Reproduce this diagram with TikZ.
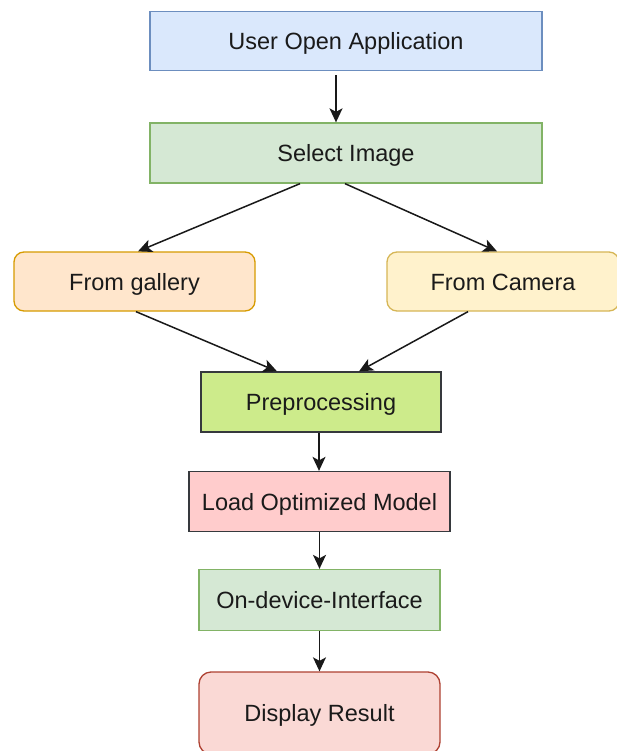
\documentclass[tikz,border=0pt]{standalone}
\usepackage{fontspec}
\setmainfont{Liberation Sans}
\usetikzlibrary{arrows.meta}

\definecolor{blueFill}{HTML}{DAE8FC}\definecolor{blueLine}{HTML}{6C8EBF}
\definecolor{greenFill}{HTML}{D5E8D4}\definecolor{greenLine}{HTML}{82B366}
\definecolor{orangeFill}{HTML}{FFE6CC}\definecolor{orangeLine}{HTML}{D79B00}
\definecolor{yellowFill}{HTML}{FFF2CC}\definecolor{yellowLine}{HTML}{D6B656}
\definecolor{limeFill}{HTML}{CDEB8B}\definecolor{darkLine}{HTML}{36393D}
\definecolor{pinkFill}{HTML}{FFCCCC}
\definecolor{redFill}{HTML}{FAD9D5}\definecolor{redLine}{HTML}{AE4132}
\definecolor{textGray}{HTML}{1A1A1A}

\tikzset{
  box/.style={draw, line width=1.3pt, inner sep=0pt, text=textGray,
    text height=17pt, text depth=0pt,
    font=\fontsize{23.5}{28}\selectfont},
  arr/.style={draw=black!90, line width=1.5pt,
    -{Stealth[length=14pt,width=13pt,inset=3.5pt]}}
}

\begin{document}
\begin{tikzpicture}[x=1pt,y=-1pt]
  \useasboundingbox (0,0) rectangle (616,751);
  \fill[white] (0,0) rectangle (616,751);

  \node[box, fill=blueFill, draw=blueLine, minimum width=392pt, minimum height=59pt]
    (open) at (346,41) {User Open Application};
  \node[box, fill=greenFill, draw=greenLine, minimum width=392pt, minimum height=60pt]
    (select) at (346,153) {Select Image};
  \node[box, fill=orangeFill, draw=orangeLine, rounded corners=10pt,
    minimum width=241pt, minimum height=59pt]
    (gallery) at (134.5,281.5) {From gallery};
  \node[box, fill=yellowFill, draw=yellowLine, rounded corners=10pt,
    minimum width=232pt, minimum height=59pt]
    (camera) at (503,281.5) {From Camera};
  \node[box, fill=limeFill, draw=darkLine, minimum width=240pt, minimum height=60pt]
    (prep) at (321,402) {Preprocessing};
  \node[box, fill=pinkFill, draw=darkLine, minimum width=261pt, minimum height=60pt]
    (load) at (319.5,501.5) {Load Optimized Model};
  \node[box, fill=greenFill, draw=greenLine, minimum width=241pt, minimum height=61pt]
    (device) at (319.5,600) {On-device-Interface};
  % the result box runs just past the lower edge of the page
  \node[box, fill=redFill, draw=redLine, rounded corners=12pt,
    minimum width=241pt, minimum height=82pt]
    (result) at (319.5,713) {Display Result};

  \draw[arr] ([xshift=-10pt,yshift=-4pt]open.south) -- ([xshift=-10pt]select.north);
  \draw[arr] ([xshift=-46pt]select.south) -- ([xshift=3.5pt]gallery.north);
  \draw[arr] ([xshift=-1pt]select.south) -- ([xshift=-6pt]camera.north);
  \draw[arr] ([xshift=1.5pt]gallery.south) -- ([xshift=-44pt]prep.north);
  \draw[arr] ([xshift=-35pt]camera.south) -- ([xshift=38pt]prep.north);
  \draw[arr] ([xshift=-2pt]prep.south) -- ([xshift=-0.5pt]load.north);
  \draw[arr] (load.south) -- (device.north);
  \draw[arr] (device.south) -- (result.north);
\end{tikzpicture}
\end{document}
